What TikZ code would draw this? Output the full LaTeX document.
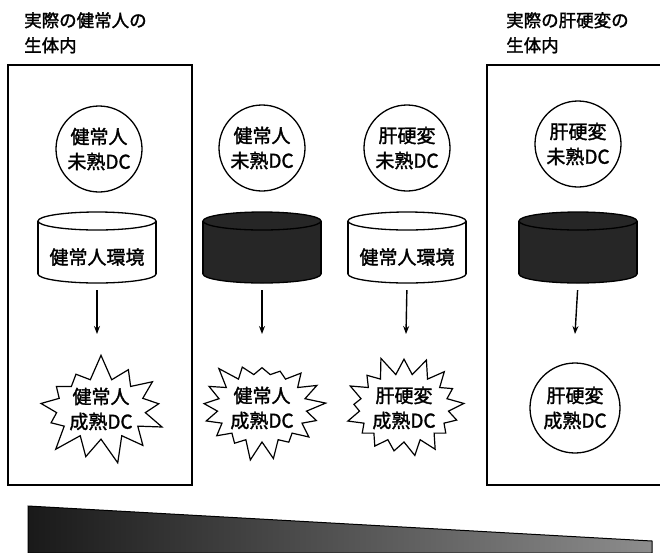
\documentclass[tikz,border=0pt]{standalone}
\usepackage{fontspec}
\newfontfamily\jp[FakeBold=1.6]{Noto Sans CJK JP}
\usetikzlibrary{shapes.symbols, arrows.meta}
\newcommand\mycyl[4]{%
  \filldraw[fill=#3, line width=1.3pt] (#2,274) ellipse [x radius=59, y radius=9];
  \fill[#3] (#2-59,221) rectangle (#2+59,274);
  \draw[line width=1.3pt] (#2-59,221) -- (#2-59,274) (#2+59,221) -- (#2+59,274);
  \filldraw[fill=#3, line width=1.3pt] (#2,221) ellipse [x radius=59, y radius=9];
  \node[minimum width=118pt, minimum height=71pt, inner sep=0pt] (#1) at (#2,247.5) {};
  \node[txt] (#1t) at (#2,257) {#4};
}
\begin{document}
\begin{tikzpicture}[x=1pt,y=-1pt,
  txt/.style={font=\jp\fontsize{19}{25}\selectfont, align=center, inner sep=0pt},
  ttl/.style={font=\jp\fontsize{17.5}{25}\selectfont, align=left, inner sep=0pt, anchor=north west},
  dcirc/.style={circle, draw, line width=1.3pt, minimum size=86pt, txt},
  burst/.style={starburst, draw, line width=1.2pt, minimum width=115pt, minimum height=108pt,
                starburst points=17, starburst point height=20pt, txt},
  arr/.style={line width=1.4pt, -{Stealth[length=8pt,width=6pt]}},
  frm/.style={line width=2pt}]
\useasboundingbox (0,0) rectangle (660,552);

% frames
\draw[frm] (8,65) rectangle (192,485);
\draw[frm] (665,65) -- (487,65) -- (487,485) -- (665,485);

% titles
\node[ttl] (t1) at (24,12) {実際の健常人の\\生体内};
\node[ttl] (t2) at (506,12) {実際の肝硬変の\\生体内};

% immature DC circles
\node[dcirc] (i1) at (99,149) {健常人\\未熟DC};
\node[dcirc] (i2) at (262,148) {健常人\\未熟DC};
\node[dcirc] (i3) at (407,148) {肝硬変\\未熟DC};
\node[dcirc] (i4) at (578,144) {肝硬変\\未熟DC};

% environments
\mycyl{c1}{97}{white}{健常人環境}
\mycyl{c2}{262}{black!85}{}
\mycyl{c3}{407}{white}{健常人環境}
\mycyl{c4}{578}{black!85}{}

% mature DC
\node[burst, random starburst=7, starburst points=13, starburst point height=26pt,
      minimum width=128pt, minimum height=112pt] (m1) at (101,409) {健常人\\成熟DC};
\node[burst, random starburst=3] (m2) at (262,408) {健常人\\成熟DC};
\node[burst, random starburst=11] (m3) at (404,408) {肝硬変\\成熟DC};
\node[dcirc, minimum size=90pt] (m4) at (575,408) {肝硬変\\成熟DC};

% arrows
\coordinate (a1) at (97,334);
\coordinate (a2) at (262,334);
\coordinate (a3) at (406,334);
\coordinate (a4) at (575,334);
\draw[arr, shorten <=7pt] (c1.south) -- (a1);
\draw[arr, shorten <=7pt] (c2.south) -- (a2);
\draw[arr, shorten <=7pt] (c3.south) -- (a3);
\draw[arr, shorten <=7pt] (c4.south) -- (a4);

% bottom band
\shade[left color=black!90, right color=black!45, draw=black, line width=1pt]
  (28,506) -- (652,541) -- (652,553) -- (28,553) -- cycle;
\end{tikzpicture}
\end{document}
